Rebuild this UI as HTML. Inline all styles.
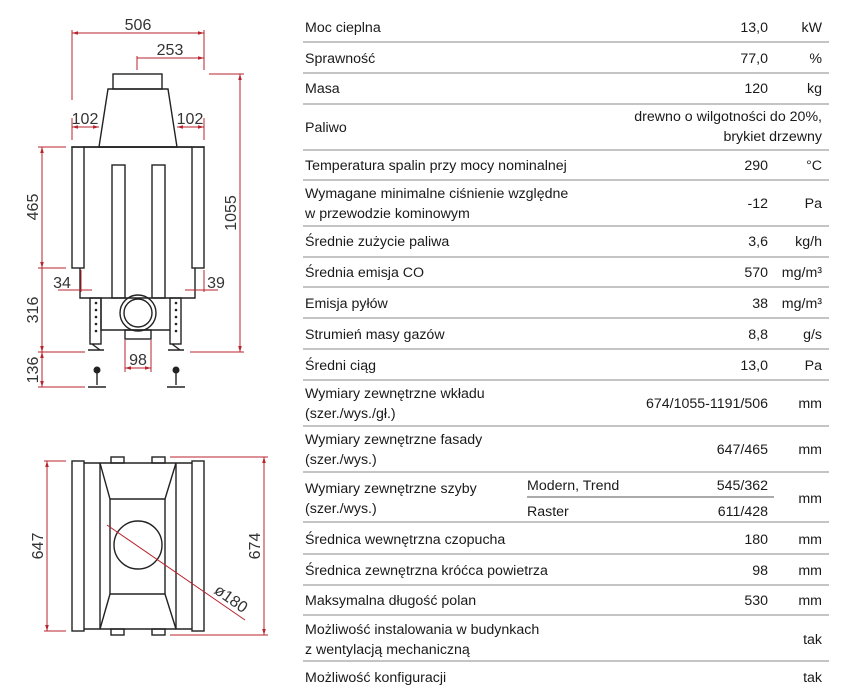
<!DOCTYPE html>
<html><head><meta charset="utf-8"><style>
html,body{margin:0;padding:0;background:#fff;}
svg{display:block;}
.t{font-family:"Liberation Sans",sans-serif;font-size:14.2px;fill:#1a1a1a;}
.d{font-family:"Liberation Sans",sans-serif;font-size:16px;fill:#333;}
</style></head><body>
<svg width="859" height="698" viewBox="0 0 859 698" xmlns="http://www.w3.org/2000/svg">
<defs>
<marker id="a" viewBox="0 0 10 10" refX="10" refY="5" markerWidth="6" markerHeight="6" orient="auto-start-reverse"><path d="M0,2 L10,5 L0,8 z" fill="#b8232c"/></marker>
</defs>
<!-- FRONT VIEW drawing -->
<g stroke="#222" stroke-width="1.4" fill="none">
<rect x="113" y="74" width="49" height="15"/>
<path d="M108,89 L168,89 L177,147 L99,147 Z"/>
<rect x="72" y="147" width="132" height="0.1"/>
<path d="M84,147 L192,147"/>
<rect x="72" y="147" width="12" height="121"/>
<rect x="192" y="147" width="12" height="121"/>
<path d="M80,268 L80,298 L195,298 L195,268"/>
<rect x="112" y="165" width="13" height="133"/>
<rect x="152" y="165" width="13" height="133"/>
<rect x="90" y="298" width="11" height="46"/>
<rect x="170" y="298" width="11" height="46"/>
<path d="M101,298 L101,330 L170,330"/>
<circle cx="138" cy="313" r="18"/>
<circle cx="138" cy="313" r="14"/>
<rect x="125" y="330" width="26" height="9"/>
<path d="M88,350 L104,350 M92,344 L100,350 M168,350 L184,350 M172,344 L180,350"/>
<path d="M97,373 L97,385 M88,387 L106,387 M176,373 L176,385 M167,387 L185,387"/>
</g>
<g fill="#222"><circle cx="97" cy="370" r="3.5"/><circle cx="176" cy="370" r="3.5"/>
<circle cx="96" cy="303" r="1.3"/><circle cx="96" cy="310" r="1.3"/><circle cx="96" cy="317" r="1.3"/><circle cx="96" cy="324" r="1.3"/><circle cx="96" cy="331" r="1.3"/>
<circle cx="176" cy="303" r="1.3"/><circle cx="176" cy="310" r="1.3"/><circle cx="176" cy="317" r="1.3"/><circle cx="176" cy="324" r="1.3"/><circle cx="176" cy="331" r="1.3"/></g>
<!-- dims front -->
<g stroke="#b8232c" stroke-width="1" fill="none">
<line x1="72" y1="33" x2="204" y2="33" marker-start="url(#a)" marker-end="url(#a)"/>
<line x1="72" y1="30" x2="72" y2="100"/><line x1="204" y1="30" x2="204" y2="70"/>
<line x1="137" y1="58" x2="204" y2="58" marker-end="url(#a)"/><line x1="137" y1="56" x2="137" y2="70"/>
<line x1="72" y1="127" x2="99" y2="127" marker-start="url(#a)" marker-end="url(#a)"/>
<line x1="72" y1="118" x2="72" y2="140"/>
<line x1="177" y1="127" x2="204" y2="127" marker-start="url(#a)" marker-end="url(#a)"/>
<line x1="204" y1="118" x2="204" y2="140"/>
<line x1="42" y1="147" x2="42" y2="268" marker-start="url(#a)" marker-end="url(#a)"/>
<line x1="38" y1="147" x2="66" y2="147"/>
<line x1="38" y1="268" x2="66" y2="268"/>
<line x1="42" y1="268" x2="42" y2="352" marker-end="url(#a)"/>
<line x1="42" y1="352" x2="42" y2="387" marker-start="url(#a)" marker-end="url(#a)"/>
<line x1="38" y1="352" x2="85" y2="352"/><line x1="38" y1="387" x2="85" y2="387"/>
<line x1="240" y1="74" x2="240" y2="352" marker-start="url(#a)" marker-end="url(#a)"/>
<line x1="209" y1="74" x2="244" y2="74"/><line x1="190" y1="352" x2="244" y2="352"/>
<line x1="58" y1="290" x2="92" y2="290"/><line x1="81" y1="270" x2="81" y2="292"/>
<line x1="185" y1="290" x2="218" y2="290"/><line x1="204" y1="270" x2="204" y2="292"/>
<line x1="125" y1="368" x2="151" y2="368" marker-start="url(#a)" marker-end="url(#a)"/>
<line x1="125" y1="340" x2="125" y2="372"/><line x1="151" y1="340" x2="151" y2="372"/>
</g>
<g class="d">
<text x="138" y="30" text-anchor="middle">506</text>
<text x="170" y="55" text-anchor="middle">253</text>
<text x="85" y="124" text-anchor="middle">102</text>
<text x="190" y="124" text-anchor="middle">102</text>
<text x="62" y="288" text-anchor="middle">34</text>
<text x="216" y="288" text-anchor="middle">39</text>
<text x="138" y="365" text-anchor="middle">98</text>
<text transform="translate(38,207) rotate(-90)" text-anchor="middle">465</text>
<text transform="translate(38,310) rotate(-90)" text-anchor="middle">316</text>
<text transform="translate(38,370) rotate(-90)" text-anchor="middle">136</text>
<text transform="translate(236,213) rotate(-90)" text-anchor="middle">1055</text>
</g>
<!-- TOP VIEW -->
<g stroke="#222" stroke-width="1.4" fill="none">
<rect x="72" y="461" width="12" height="170"/>
<rect x="192" y="461" width="12" height="170"/>
<path d="M84,463 L192,463 M84,629 L192,629"/>
<path d="M100,463 L100,629 M176,463 L176,629"/>
<path d="M100,463 L110,499 L165,499 L176,463 M100,629 L110,594 L165,594 L176,629"/>
<path d="M110,499 L110,594 M165,499 L165,594"/>
<circle cx="138" cy="545" r="24"/>
<rect x="111" y="457" width="13" height="6"/><rect x="152" y="457" width="13" height="6"/>
<rect x="111" y="629" width="13" height="6"/><rect x="152" y="629" width="13" height="6"/>
</g>
<g stroke="#b8232c" stroke-width="1" fill="none">
<line x1="47" y1="461" x2="47" y2="631" marker-start="url(#a)" marker-end="url(#a)"/>
<line x1="44" y1="461" x2="66" y2="461"/><line x1="44" y1="631" x2="66" y2="631"/>
<line x1="264" y1="457" x2="264" y2="635" marker-start="url(#a)" marker-end="url(#a)"/>
<line x1="170" y1="457" x2="268" y2="457"/><line x1="170" y1="635" x2="268" y2="635"/>
<line x1="107" y1="525" x2="245" y2="620"/>
</g>
<g class="d">
<text transform="translate(43,546) rotate(-90)" text-anchor="middle">647</text>
<text transform="translate(260,546) rotate(-90)" text-anchor="middle">674</text>
<text transform="translate(228,603) rotate(35)" text-anchor="middle">ø180</text>
</g>
<!-- TABLE -->
<g stroke="#b0b0b0" stroke-width="1.5">
<line x1="303" y1="42" x2="829" y2="42"/><line x1="303" y1="73" x2="829" y2="73"/>
<line x1="303" y1="104" x2="829" y2="104"/><line x1="303" y1="150" x2="829" y2="150"/>
<line x1="303" y1="180" x2="829" y2="180"/><line x1="303" y1="226" x2="829" y2="226"/>
<line x1="303" y1="257" x2="829" y2="257"/><line x1="303" y1="287" x2="829" y2="287"/>
<line x1="303" y1="318" x2="829" y2="318"/><line x1="303" y1="349" x2="829" y2="349"/>
<line x1="303" y1="380" x2="829" y2="380"/><line x1="303" y1="426" x2="829" y2="426"/>
<line x1="303" y1="472" x2="829" y2="472"/><line x1="303" y1="522" x2="829" y2="522"/>
<line x1="303" y1="554" x2="829" y2="554"/><line x1="303" y1="585" x2="829" y2="585"/>
<line x1="303" y1="615" x2="829" y2="615"/><line x1="303" y1="661" x2="829" y2="661"/>
<line x1="527" y1="497" x2="774" y2="497" stroke="#555" stroke-width="1"/>
</g>
<g class="t">
<text x="305" y="32">Moc cieplna</text><text x="768" y="32" text-anchor="end">13,0</text><text x="822" y="32" text-anchor="end">kW</text>
<text x="305" y="63">Sprawność</text><text x="768" y="63" text-anchor="end">77,0</text><text x="822" y="63" text-anchor="end">%</text>
<text x="305" y="93">Masa</text><text x="768" y="93" text-anchor="end">120</text><text x="822" y="93" text-anchor="end">kg</text>
<text x="305" y="132">Paliwo</text><text x="822" y="121" text-anchor="end">drewno o wilgotności do 20%,</text><text x="822" y="141" text-anchor="end">brykiet drzewny</text>
<text x="305" y="170">Temperatura spalin przy mocy nominalnej</text><text x="768" y="170" text-anchor="end">290</text><text x="822" y="170" text-anchor="end">°C</text>
<text x="305" y="198">Wymagane minimalne ciśnienie względne</text><text x="305" y="218"> w przewodzie kominowym</text><text x="768" y="208" text-anchor="end">-12</text><text x="822" y="208" text-anchor="end">Pa</text>
<text x="305" y="246">Średnie zużycie paliwa</text><text x="768" y="246" text-anchor="end">3,6</text><text x="822" y="246" text-anchor="end">kg/h</text>
<text x="305" y="277">Średnia emisja CO</text><text x="768" y="277" text-anchor="end">570</text><text x="822" y="277" text-anchor="end">mg/m³</text>
<text x="305" y="308">Emisja pyłów</text><text x="768" y="308" text-anchor="end">38</text><text x="822" y="308" text-anchor="end">mg/m³</text>
<text x="305" y="339">Strumień masy gazów</text><text x="768" y="339" text-anchor="end">8,8</text><text x="822" y="339" text-anchor="end">g/s</text>
<text x="305" y="370">Średni ciąg</text><text x="768" y="370" text-anchor="end">13,0</text><text x="822" y="370" text-anchor="end">Pa</text>
<text x="305" y="398">Wymiary zewnętrzne wkładu</text><text x="305" y="418">(szer./wys./gł.)</text><text x="768" y="408" text-anchor="end">674/1055-1191/506</text><text x="822" y="408" text-anchor="end">mm</text>
<text x="305" y="444">Wymiary zewnętrzne fasady</text><text x="305" y="464">(szer./wys.)</text><text x="768" y="454" text-anchor="end">647/465</text><text x="822" y="454" text-anchor="end">mm</text>
<text x="305" y="493">Wymiary zewnętrzne szyby</text><text x="305" y="513">(szer./wys.)</text>
<text x="527" y="490">Modern, Trend</text><text x="768" y="490" text-anchor="end">545/362</text>
<text x="527" y="516">Raster</text><text x="768" y="516" text-anchor="end">611/428</text><text x="822" y="503" text-anchor="end">mm</text>
<text x="305" y="544">Średnica wewnętrzna czopucha</text><text x="768" y="544" text-anchor="end">180</text><text x="822" y="544" text-anchor="end">mm</text>
<text x="305" y="575">Średnica zewnętrzna króćca powietrza</text><text x="768" y="575" text-anchor="end">98</text><text x="822" y="575" text-anchor="end">mm</text>
<text x="305" y="605">Maksymalna długość polan</text><text x="768" y="605" text-anchor="end">530</text><text x="822" y="605" text-anchor="end">mm</text>
<text x="305" y="634">Możliwość instalowania w budynkach</text><text x="305" y="654">z wentylacją mechaniczną</text><text x="822" y="644" text-anchor="end">tak</text>
<text x="305" y="682">Możliwość konfiguracji</text><text x="822" y="682" text-anchor="end">tak</text>
</g>
</svg>
</body></html>
